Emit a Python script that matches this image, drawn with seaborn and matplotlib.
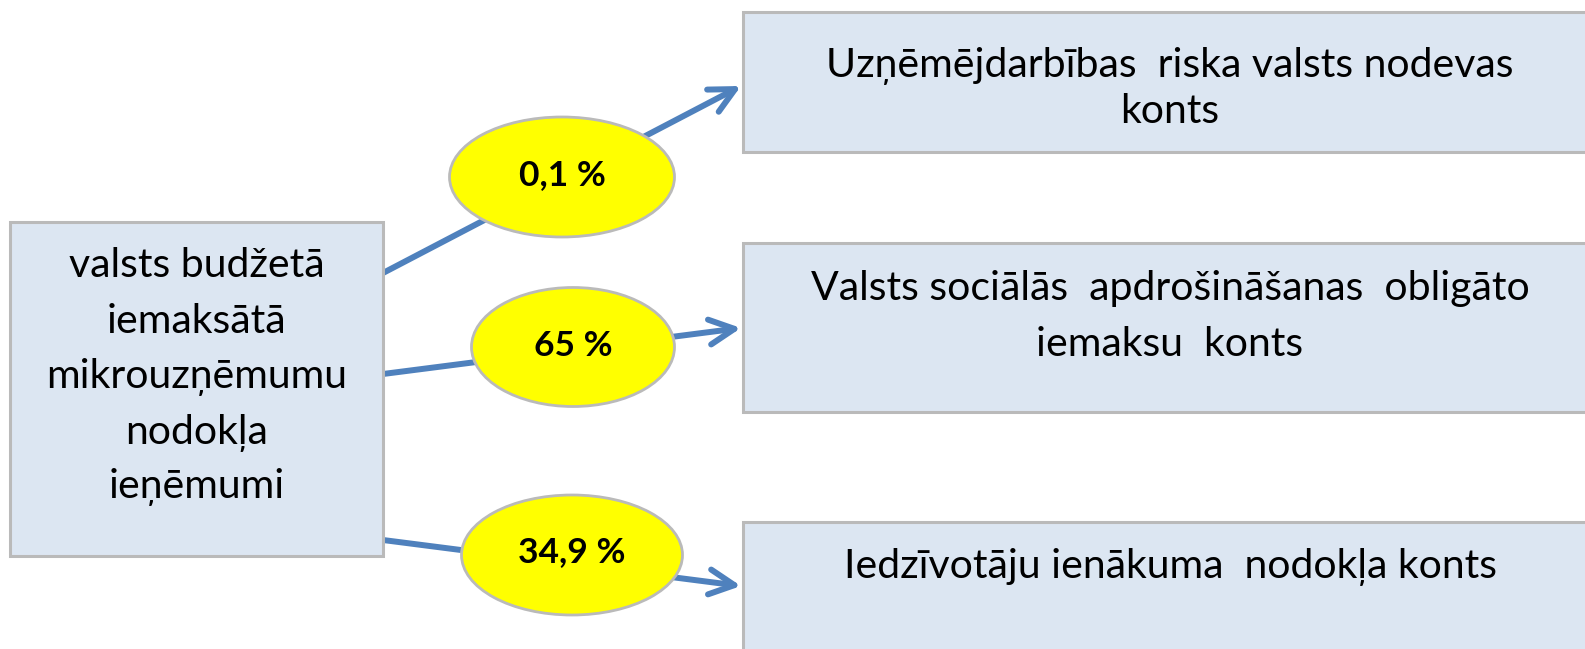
import matplotlib
matplotlib.use("Agg")
import matplotlib.pyplot as plt
from matplotlib.patches import Rectangle, Ellipse
import seaborn as sns

# ================= DATA =================
source_lines = ["valsts budžetā", "iemaksātā", "mikrouzņēmumu", "nodokļa", "ieņēmumi"]
shares = ["0,1 %", "65 %", "34,9 %"]
target_lines = [
    ["Uzņēmējdarbības  riska valsts nodevas", "konts"],
    ["Valsts sociālās  apdrošināšanas  obligāto", "iemaksu  konts"],
    ["Iedzīvotāju ienākuma  nodokļa konts"],
]

# ================= LAYOUT (pixels, y down) =================
W, H = 1585, 649
src_box = (10, 222, 373, 334)                     # x, y, w, h
src_baselines = [277, 333, 388, 444, 498]
tgt_boxes = [(743, 12, 870, 140), (743, 243, 870, 169), (743, 522, 870, 160)]
tgt_text_x = 1170
tgt_baselines = [[77, 123], [300, 356], [578]]
ellipses = [(562, 177, 225, 120), (573, 347, 203, 119), (572, 555, 221, 120)]
share_baselines = [185, 356, 562]
arrows = [((383, 273), (741, 86)), ((383, 374), (741, 328)), ((383, 540), (741, 586))]

BOX_FILL = "#DCE6F2"
BOX_EDGE = "#BABABA"
ARROW = "#4F81BD"

sns.set_theme(style="white")
plt.rcParams['font.family'] = ['Lato', 'DejaVu Sans']

fig = plt.figure(figsize=(W / 100, H / 100), dpi=100)
ax = fig.add_axes([0, 0, 1, 1])
ax.set_xlim(0, W)
ax.set_ylim(H, 0)
ax.axis("off")

# arrows (behind everything)
for (x0, y0), (x1, y1) in arrows:
    ax.annotate("", xy=(x1, y1), xytext=(x0, y0),
                arrowprops=dict(arrowstyle="->,head_length=0.9,head_width=0.45",
                                color=ARROW, lw=4.3, mutation_scale=20,
                                shrinkA=0, shrinkB=0, capstyle="round",
                                joinstyle="round"),
                zorder=1)

# source box
x, y, w, h = src_box
ax.add_patch(Rectangle((x, y), w, h, facecolor=BOX_FILL, edgecolor=BOX_EDGE, lw=2.2, zorder=2))
for line, yb in zip(source_lines, src_baselines):
    ax.text(x + w / 2, yb, line, ha="center", va="baseline", fontsize=29.5, color="black", zorder=3)

# target boxes
for (x, y, w, h), lines, bases in zip(tgt_boxes, target_lines, tgt_baselines):
    ax.add_patch(Rectangle((x, y), w, h, facecolor=BOX_FILL, edgecolor=BOX_EDGE, lw=2.2, zorder=2))
    for line, yb in zip(lines, bases):
        ax.text(tgt_text_x, yb, line, ha="center", va="baseline", fontsize=29.5,
                color="black", zorder=3)

# share ellipses
for (cx, cy, ew, eh), label, yb in zip(ellipses, shares, share_baselines):
    ax.add_patch(Ellipse((cx, cy), ew, eh, facecolor="#FFFF00", edgecolor=BOX_EDGE, lw=2, zorder=4))
    ax.text(cx, yb, label, ha="center", va="baseline", fontsize=25.5, fontweight="bold",
            color="black", zorder=5)

fig.savefig("out.png", dpi=100)
